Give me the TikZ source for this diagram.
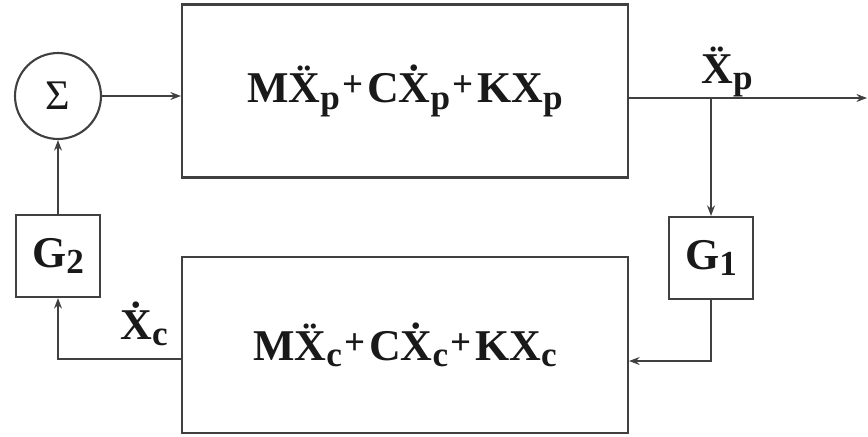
\documentclass[tikz,border=0pt]{standalone}
\usepackage{fontspec}
\setmainfont{Liberation Serif}
\usetikzlibrary{arrows.meta, positioning}
\newcommand{\lsub}[1]{\raisebox{-0.32ex}{\fontsize{20}{20}\selectfont #1}}
\newcommand{\pls}{\kern1.5pt\raisebox{0.3ex}{\fontsize{21}{21}\selectfont+}\kern2pt}
\tikzset{
	blk/.style={draw, line width=1.2pt, inner sep=0pt, font=\fontsize{25}{25}\selectfont\bfseries},
	conn/.style={line width=1.2pt, -{Stealth[length=6pt,width=4.5pt]}},
	lbl/.style={font=\fontsize{25}{25}\selectfont\bfseries},
}
\begin{document}
\begin{tikzpicture}[x=0.02cm, y=-0.02cm, color=black!75, text=black!90]
		\useasboundingbox (0,0) rectangle (868,436);
		\node[draw, circle, line width=1.2pt, minimum size=1.72cm, inner sep=0pt, font=\fontsize{24}{24}\selectfont] (sum) at (58,96) {Σ};
		\node[blk, minimum width=8.92cm, minimum height=3.46cm] (plant) at (405,91)
			{M\"X\lsub{p}\pls C\.X\lsub{p}\pls KX\lsub{p}};
		\node[blk, minimum width=8.92cm, minimum height=3.52cm] (ctrl) at (405,345)
			{M\"X\lsub{c}\pls C\.X\lsub{c}\pls KX\lsub{c}};
		\node[blk, minimum width=1.68cm, minimum height=1.64cm] (g1) at (711,258) {G\lsub{1}};
		\node[blk, minimum width=1.68cm, minimum height=1.64cm] (g2) at (58,256) {G\lsub{2}};
		% outer connections
		\coordinate (outend) at (867,98);
		\coordinate (fbr) at (711,361);
		\coordinate (fbl) at (58,359);
		\draw[conn] (sum.east) -- (sum.east -| plant.west);
		\draw[conn] (plant.east |- outend) -- (outend);
		\draw[conn] (g1.north |- outend) -- (g1.north);
		\draw[conn] (g1.south) -- (fbr) -- (fbr -| ctrl.east);
		\draw[conn] (fbl -| ctrl.west) -- (fbl) -- (g2.south);
		\draw[conn] (g2.north) -- (sum.south);
		\node[lbl] (xp) at (727,72) {\"X\lsub{p}};
		\node[lbl] (xc) at (144,324) {\.X\lsub{c}};
\end{tikzpicture}
\end{document}
